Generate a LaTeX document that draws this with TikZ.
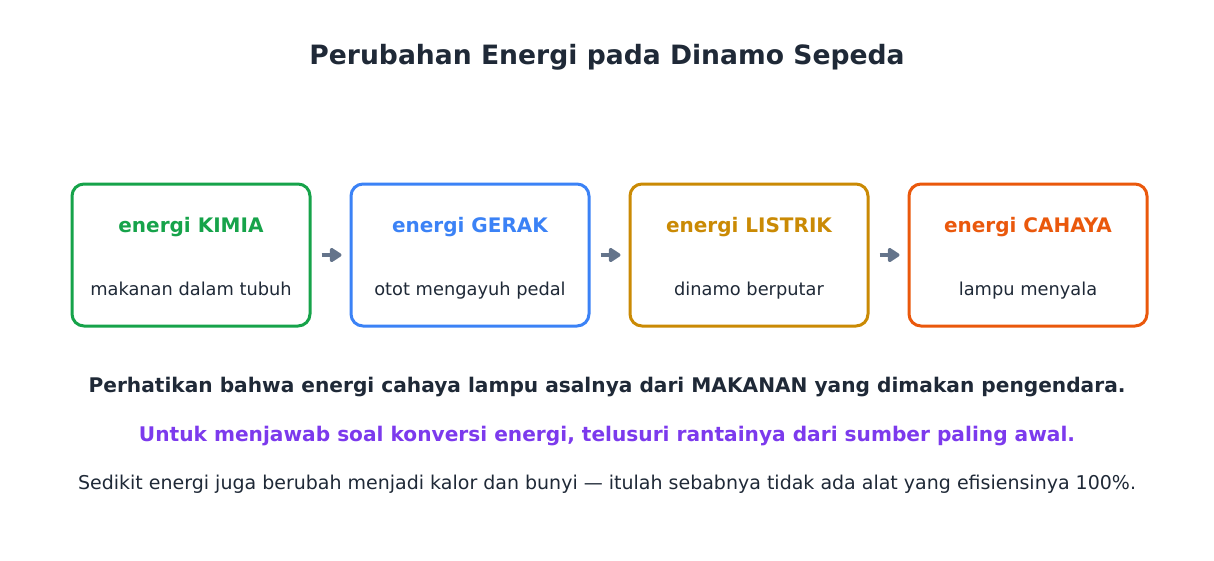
\documentclass[tikz,border=0pt]{standalone}
\usepackage{fontspec}
\setmainfont{DejaVu Sans}
\usepackage{xcolor}
\usetikzlibrary{arrows.meta}
\definecolor{tinta}{HTML}{1F2937}
\definecolor{abu}{HTML}{64748B}
\definecolor{hijau}{HTML}{16A34A}
\definecolor{biru}{HTML}{3B82F6}
\definecolor{kuning}{HTML}{CA8A04}
\definecolor{jingga}{HTML}{EA580C}
\definecolor{ungu}{HTML}{7C3AED}

\begin{document}
\begin{tikzpicture}[x=1pt,y=-1pt,
  kotak/.style={draw=#1, line width=3pt, rounded corners=12pt, fill=white,
    minimum width=238pt, minimum height=142pt},
  judulkotak/.style={anchor=base, text=#1, font=\bfseries\fontsize{20}{24}\selectfont},
  isikotak/.style={anchor=base, text=tinta, font=\fontsize{17.8}{21}\selectfont},
  baris/.style={anchor=base, text=#1},
  panah/.style={-{Triangle[length=13pt,width=16pt,round]}, line width=4.5pt, draw=abu,
    shorten <=10pt, shorten >=8pt}]
  \useasboundingbox[fill=white] (0,0) rectangle (1214,560);
  \node[baris=tinta, font=\bfseries\fontsize{26.6}{32}\selectfont] (judul) at (607,64) {Perubahan Energi pada Dinamo Sepeda};

  \node[kotak=hijau] (kimia) at (191,255) {};
  \node[kotak=biru] (gerak) at (470,255) {};
  \node[kotak=kuning] (listrik) at (749,255) {};
  \node[kotak=jingga] (cahaya) at (1028,255) {};

  \node[judulkotak=hijau] (tkimia) at (191,232) {energi KIMIA};
  \node[isikotak] (skimia) at (191,295) {makanan dalam tubuh};
  \node[judulkotak=biru] (tgerak) at (470,232) {energi GERAK};
  \node[isikotak] (sgerak) at (470,295) {otot mengayuh pedal};
  \node[judulkotak=kuning] (tlistrik) at (749,232) {energi LISTRIK};
  \node[isikotak] (slistrik) at (749,295) {dinamo berputar};
  \node[judulkotak=jingga] (tcahaya) at (1028,232) {energi CAHAYA};
  \node[isikotak] (scahaya) at (1028,295) {lampu menyala};

  \draw[panah] (kimia) -- (gerak);
  \draw[panah] (gerak) -- (listrik);
  \draw[panah] (listrik) -- (cahaya);

  \node[baris=tinta, font=\bfseries\fontsize{20.15}{24}\selectfont] (catatan) at (607,392) {Perhatikan bahwa energi cahaya lampu asalnya dari MAKANAN yang dimakan pengendara.};
  \node[baris=ungu, font=\bfseries\fontsize{20.15}{24}\selectfont] (saran) at (607,441) {Untuk menjawab soal konversi energi, telusuri rantainya dari sumber paling awal.};
  \node[baris=tinta, font=\fontsize{19}{23}\selectfont] (kalor) at (607,489) {Sedikit energi juga berubah menjadi kalor dan bunyi — itulah sebabnya tidak ada alat yang efisiensinya 100\%.};
\end{tikzpicture}
\end{document}
